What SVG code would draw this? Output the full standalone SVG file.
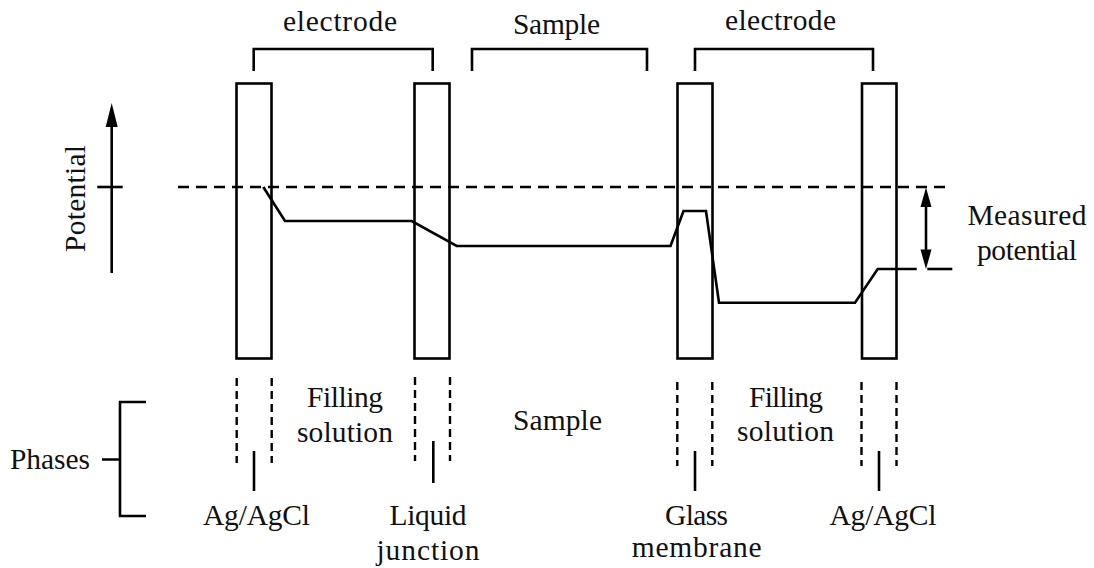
<svg xmlns="http://www.w3.org/2000/svg" width="1094" height="568" viewBox="0 0 1094 568">
<style>
  text { font-family: "Liberation Serif", "Times New Roman", serif; font-size: 29.5px; fill: #111; text-anchor: middle; }
  .ln { stroke: #000; stroke-width: 2.6; fill: none; }
  .box { stroke: #000; stroke-width: 2.6; fill: none; }
  .dash { stroke: #000; stroke-width: 2.4; fill: none; stroke-dasharray: 11 7; }
  .vdash { stroke: #000; stroke-width: 2.4; fill: none; stroke-dasharray: 8 5; }
  .head { fill: #000; stroke: none; }
</style>

<!-- dashed reference line -->
<path class="dash" d="M178,187 H948"/>

<g id="electrode1-bracket">
  <path class="ln" d="M253.7,71 V49 H432.7 V71"/>
  <text x="340" y="31" textLength="114" lengthAdjust="spacing">electrode</text>
</g>
<g id="sample-bracket">
  <path class="ln" d="M472,71 V49 H647 V71"/>
  <text x="556.5" y="34" textLength="87" lengthAdjust="spacing">Sample</text>
</g>
<g id="electrode2-bracket">
  <path class="ln" d="M695,71 V49 H873 V71"/>
  <text x="780.5" y="30" textLength="111" lengthAdjust="spacing">electrode</text>
</g>

<g id="agagcl1">
  <rect class="box" x="236.5" y="83.5" width="35" height="275"/>
  <path class="vdash" d="M236.7,378 V463 M271.7,378 V463"/>
  <path class="ln" d="M254,451 V491"/>
  <text x="256.5" y="525" textLength="107" lengthAdjust="spacing">Ag/AgCl</text>
</g>
<g id="liquid-junction">
  <rect class="box" x="414.5" y="83.5" width="35" height="275"/>
  <path class="vdash" d="M415,377 V461 M450,377 V461"/>
  <path class="ln" d="M433.3,441 V483"/>
  <text x="428" y="525" textLength="77" lengthAdjust="spacing">Liquid</text>
  <text x="428" y="560" textLength="103" lengthAdjust="spacing">junction</text>
</g>
<g id="glass-membrane">
  <rect class="box" x="677.5" y="83.5" width="35" height="275"/>
  <path class="vdash" d="M677.3,382 V466 M712.3,382 V466"/>
  <path class="ln" d="M695,451 V491"/>
  <text x="696.5" y="525" textLength="63" lengthAdjust="spacing">Glass</text>
  <text x="696.7" y="557" textLength="130" lengthAdjust="spacing">membrane</text>
</g>
<g id="agagcl2">
  <rect class="box" x="862" y="83.5" width="34.5" height="275"/>
  <path class="vdash" d="M861.5,382 V466 M896.5,382 V466"/>
  <path class="ln" d="M879,451 V491"/>
  <text x="883" y="525" textLength="107" lengthAdjust="spacing">Ag/AgCl</text>
</g>

<g id="phase-labels">
  <text x="345" y="407" textLength="76" lengthAdjust="spacing">Filling</text>
  <text x="345" y="442" textLength="96" lengthAdjust="spacing">solution</text>
  <text x="557.5" y="430" textLength="89" lengthAdjust="spacing">Sample</text>
  <text x="786" y="407" textLength="74" lengthAdjust="spacing">Filling</text>
  <text x="785.5" y="441" textLength="97" lengthAdjust="spacing">solution</text>
</g>

<g id="phases">
  <path class="ln" d="M146,402 H120 V516 H146 M102,459.5 H120"/>
  <text x="50" y="469" textLength="80" lengthAdjust="spacing">Phases</text>
</g>

<g id="potential-axis">
  <path class="ln" d="M111.7,273 V122"/>
  <polygon class="head" points="111.7,103 105.7,127 117.7,127"/>
  <path class="ln" d="M97.3,187 H122.7"/>
  <text transform="translate(85,198.5) rotate(-90)" x="0" y="0" textLength="107" lengthAdjust="spacing">Potential</text>
</g>

<g id="connectors">
  <polyline class="ln" points="263.3,187 285,221 411.7,221 456.7,246 670.5,246 683.5,211 706,211 719,302.7 855,302.7 877.7,269 916.7,269"/>
</g>

<g id="measured-potential">
  <path class="ln" d="M927.3,269 H952.3"/>
  <path class="ln" d="M926,202 V254"/>
  <polygon class="head" points="926,187.5 920.5,207 931.5,207"/>
  <polygon class="head" points="926,269 920.5,249.5 931.5,249.5"/>
  <text x="1027" y="225" textLength="119" lengthAdjust="spacing">Measured</text>
  <text x="1027" y="260" textLength="100" lengthAdjust="spacing">potential</text>
</g>
</svg>
